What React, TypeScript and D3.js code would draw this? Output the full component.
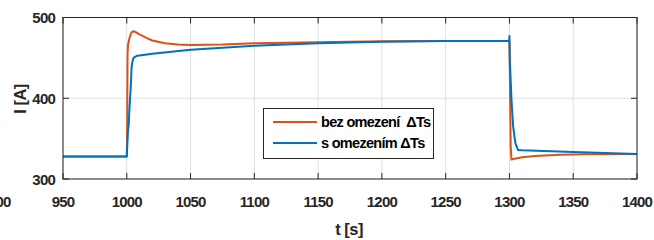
import React from "react";
import * as d3 from "d3";

const xTicks = [900, 950, 1000, 1050, 1100, 1150, 1200, 1250, 1300, 1350, 1400];
const yTicks = [300, 400, 500];
const seriesNames = ["bez omezení  ΔTs", "s omezením ΔTs"];
const seriesColors = ["#D95319", "#0072BD"];

const orangeT = [950, 1000, 1000.3, 1000.6, 1001, 1002, 1003, 1004, 1005, 1007, 1010, 1015, 1020, 1030, 1040, 1050, 1075, 1100, 1150, 1200, 1250, 1299.9, 1300.1, 1301, 1301.6, 1304, 1310, 1320, 1340, 1360, 1400];
const orangeV = [328, 328, 360, 455, 466, 474, 479, 482, 483, 482, 479, 475, 471.5, 468, 466.5, 466, 466.5, 468, 469.5, 470.5, 471, 471, 460, 340, 324, 325, 327, 328.5, 330, 330.5, 331];

const blueT = [950, 1000, 1000.5, 1001, 1001.5, 1002, 1002.5, 1003, 1003.8, 1004.4, 1005.1, 1006, 1008, 1010, 1020, 1050, 1100, 1150, 1200, 1250, 1299.8, 1300, 1300.3, 1301.1, 1301.6, 1302.9, 1304.7, 1306.7, 1310, 1350, 1400];
const blueV = [328, 328, 345, 362, 366, 385, 398, 410, 439, 445, 449.4, 451, 452.5, 453, 455, 460, 465, 468, 470, 471, 471, 477, 447, 418, 398, 365, 344, 336, 335.5, 333.5, 331];

const L = 63, R = 637, T = 17.5, B = 179;

export default function App() {
  const x = d3.scaleLinear().domain([950, 1400]).range([L, R]);
  const y = d3.scaleLinear().domain([300, 500]).range([B, T]);
  const line = d3.line<[number, number]>().x(d => x(d[0])).y(d => y(d[1]));
  const orange = orangeT.map((t, i) => [t, orangeV[i]] as [number, number]);
  const blue = blueT.map((t, i) => [t, blueV[i]] as [number, number]);
  const font = "'Liberation Sans', Arial, sans-serif";
  const tickLen = 6;
  const axisColor = "#262626";
  const inner = xTicks.filter(t => t >= 950 && t <= 1400);
  return (
    <svg width={654} height={240} style={{ position: "absolute", left: 0, top: 0, background: "#fff" }}>
      <rect x={0} y={0} width={654} height={240} fill="#fff" />
      {/* grid */}
      {inner.map(t => (
        <line key={"gx" + t} x1={x(t)} x2={x(t)} y1={T} y2={B} stroke="#dfdfdf" strokeWidth={1} />
      ))}
      {yTicks.map(t => (
        <line key={"gy" + t} x1={L} x2={R} y1={y(t)} y2={y(t)} stroke="#dfdfdf" strokeWidth={1} />
      ))}
      {/* series */}
      <path d={line(orange) || ""} fill="none" stroke={seriesColors[0]} strokeWidth={2} strokeLinejoin="round" />
      <path d={line(blue) || ""} fill="none" stroke={seriesColors[1]} strokeWidth={2} strokeLinejoin="round" />
      {/* box */}
      <rect x={L} y={T} width={R - L} height={B - T} fill="none" stroke={axisColor} strokeWidth={1} />
      {inner.map(t => (
        <g key={"tx" + t}>
          <line x1={x(t)} x2={x(t)} y1={B} y2={B - tickLen} stroke={axisColor} />
          <line x1={x(t)} x2={x(t)} y1={T} y2={T + tickLen} stroke={axisColor} />
        </g>
      ))}
      {yTicks.map(t => (
        <g key={"ty" + t}>
          <line x1={L} x2={L + tickLen} y1={y(t)} y2={y(t)} stroke={axisColor} />
          <line x1={R} x2={R - tickLen} y1={y(t)} y2={y(t)} stroke={axisColor} />
        </g>
      ))}
      {/* tick labels */}
      {xTicks.map(t => (
        <text key={"lx" + t} x={x(t)} y={206.5} textAnchor="middle" fontFamily={font} fontWeight="bold" fontSize={15} letterSpacing={-0.8} fill="#262626">
          {t}
        </text>
      ))}
      {yTicks.map(t => (
        <text key={"ly" + t} x={55} y={y(t) + 5.5} textAnchor="end" fontFamily={font} fontWeight="bold" fontSize={15} letterSpacing={-0.8} fill="#262626">
          {t}
        </text>
      ))}
      {/* axis labels */}
      <text x={349} y={235} textAnchor="middle" fontFamily={font} fontWeight="bold" fontSize={16.5} letterSpacing={-0.5} fill="#262626">
        t [s]
      </text>
      <text transform={`translate(26,${99}) rotate(-90)`} textAnchor="middle" fontFamily={font} fontWeight="bold" fontSize={16.5} letterSpacing={-0.5} fill="#262626">
        I [A]
      </text>
      {/* legend */}
      <rect x={263.5} y={108.5} width={170} height={50} fill="#fff" stroke={axisColor} strokeWidth={1} />
      {seriesNames.map((n, i) => (
        <g key={"lg" + i}>
          <line x1={273} x2={317} y1={122 + i * 21} y2={122 + i * 21} stroke={seriesColors[i]} strokeWidth={2} />
          <text x={321} y={122 + i * 21 + 5} fontFamily={font} fontWeight="bold" fontSize={14.5} letterSpacing={-0.7} fill="#000" style={{ whiteSpace: "pre" }}>
            {n}
          </text>
        </g>
      ))}
    </svg>
  );
}
